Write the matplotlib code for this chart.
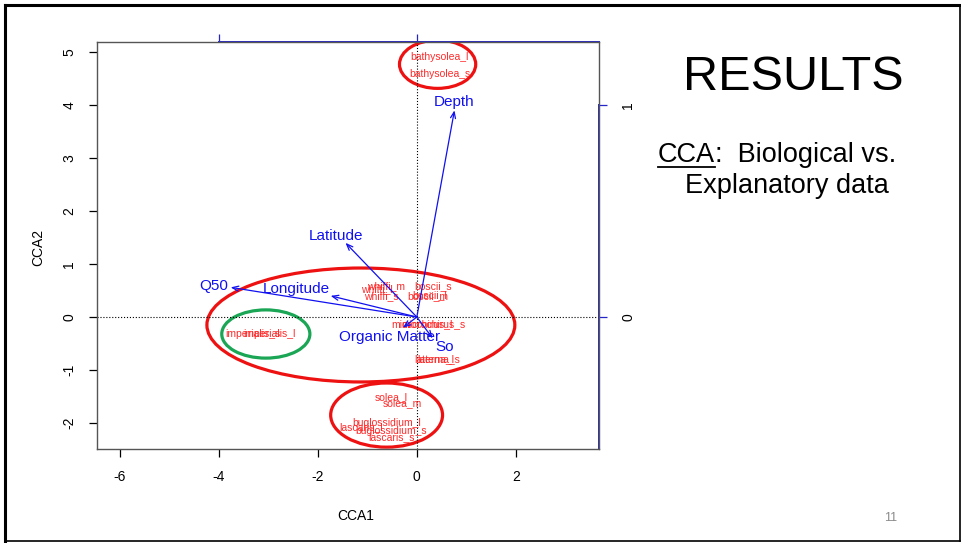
import matplotlib.pyplot as plt
from matplotlib.patches import Ellipse
from matplotlib.lines import Line2D

plt.rcParams['font.family'] = ['Liberation Sans', 'DejaVu Sans']
plt.rcParams['axes.unicode_minus'] = False

# species scores on CCA1 / CCA2
species = ['bathysolea_l', 'bathysolea_s',
           'whiffi_l', 'whiffi_m', 'whiffi_s',
           'boscii_s', 'boscii_l', 'boscii_m',
           'microchirus_l', 'microchirus_s',
           'laterna_l', 'laterna_s',
           'imperialis_s', 'imperialis_l',
           'solea_l', 'solea_m',
           'buglossidium_l', 'buglossidium_s',
           'lascaris_l', 'lascaris_s']
sp_x = [0.46, 0.46, -0.81, -0.63, -0.71, 0.32, 0.26, 0.22, 0.10, 0.34,
        0.36, 0.44, -3.31, -2.97, -0.51, -0.30, -0.61, -0.51, -1.13, -0.51]
sp_y = [4.91, 4.58, 0.53, 0.58, 0.40, 0.58, 0.42, 0.40, -0.13, -0.13,
        -0.79, -0.79, -0.32, -0.32, -1.51, -1.62, -2.00, -2.15, -2.08, -2.26]

# biplot scores of the explanatory variables and where their names sit
env = ['Depth', 'Latitude', 'Q50', 'Longitude', 'Organic Matter', 'So']
env_x = [0.19, -0.36, -0.94, -0.435, -0.07, 0.08]
env_y = [0.975, 0.35, 0.14, 0.10, -0.05, -0.10]
env_lx = [0.19, -0.41, -1.025, -0.61, -0.14, 0.14]
env_ly = [1.015, 0.38, 0.145, 0.13, -0.095, -0.14]
arrow_mul = 4.0

# hand-drawn groupings: centre x, centre y, width, height, colour
grp_cx = [0.42, -1.13, -3.05, -0.61]
grp_cy = [4.77, -0.15, -0.32, -1.85]
grp_w = [1.54, 6.22, 1.78, 2.26]
grp_h = [0.91, 2.15, 0.91, 1.21]
grp_col = ['#ee1111', '#ee1111', '#1aa655', '#ee1111']

blue = '#1010f0'
axblue = '#2626c8'
red = '#ff2a2a'

fig = plt.figure(figsize=(9.62, 5.43), dpi=100)
ax = fig.add_axes([97 / 962, 1 - 449 / 543, 502 / 962, 407 / 543])
xmin, xmax, ymin, ymax = -6.46, 3.68, -2.49, 5.19
ax.set_xlim(xmin, xmax)
ax.set_ylim(ymin, ymax)

ax.axhline(0, color='black', lw=0.8, ls=':')
ax.axvline(0, color='black', lw=0.8, ls=':')

for name, x, y in zip(species, sp_x, sp_y):
    ax.text(x, y, name, color=red, fontsize=7.5, ha='center', va='center')

for name, x, y, lx, ly in zip(env, env_x, env_y, env_lx, env_ly):
    ax.annotate('', xy=(x * arrow_mul, y * arrow_mul), xytext=(0, 0),
                arrowprops=dict(arrowstyle='->,head_length=0.45,head_width=0.18',
                                color=blue, lw=0.9, shrinkA=0, shrinkB=0))
    ax.text(lx * arrow_mul, ly * arrow_mul, name, color=blue, fontsize=11,
            ha='center', va='center')

for cx, cy, w, h, c in zip(grp_cx, grp_cy, grp_w, grp_h, grp_col):
    ax.add_patch(Ellipse((cx, cy), w, h, fill=False, edgecolor=c, lw=2.3))

ax.set_xticks([-6, -4, -2, 0, 2])
ax.set_yticks(range(-2, 6))
ax.set_yticklabels([str(v) for v in range(-2, 6)], rotation=90, va='center')
ax.tick_params(direction='out', length=6, width=0.9, labelsize=10, pad=9)
for sp in ax.spines.values():
    sp.set_color('#555555')
    sp.set_linewidth(1.0)

# arrow scale axes on top and right
sx = ax.secondary_xaxis('top', functions=(lambda v: v / arrow_mul, lambda v: v * arrow_mul))
sx.set_xticks([-1, 0])
sx.set_xticklabels([])
sx.tick_params(color=axblue, length=6, width=0.9)
sx.spines['top'].set_visible(False)
sy = ax.secondary_yaxis('right', functions=(lambda v: v / arrow_mul, lambda v: v * arrow_mul))
sy.set_yticks([0, 1])
sy.set_yticklabels(['0', '1'], rotation=90, va='center')
sy.tick_params(color=axblue, length=6, width=0.9, labelsize=10, pad=10)
sy.spines['right'].set_visible(False)
ax.plot([-arrow_mul, xmax], [ymax, ymax], color=axblue, lw=1.4, clip_on=False)
ax.plot([xmax, xmax], [ymin, arrow_mul], color=axblue, lw=1.4, clip_on=False)

fig.text(356 / 962, 1 - 516 / 543, 'CCA1', fontsize=10, ha='center', va='center')
fig.text(38 / 962, 1 - 247 / 543, 'CCA2', fontsize=10, ha='center', va='center',
         rotation=90)

# slide text
fig.text(793 / 962, 1 - 77 / 543, 'RESULTS', fontsize=35, ha='center', va='center')
t = fig.text(658 / 962, 1 - 155 / 543, 'CCA', fontsize=19.5, va='center')
fig.canvas.draw()
bb = t.get_window_extent()
fig.text(bb.x1 / 962, 1 - 155 / 543, ':  Biological vs.', fontsize=19.5, va='center')
fig.add_artist(Line2D([bb.x0 / 962, bb.x1 / 962], [(bb.y0 + 1) / 543] * 2,
                      transform=fig.transFigure, color='black', lw=1.3))
fig.text(685 / 962, 1 - 186 / 543, 'Explanatory data', fontsize=19.5, va='center')
fig.text(891 / 962, 1 - 518 / 543, '11', fontsize=9, color='#8a8a8a',
         ha='center', va='center')

# slide frame
for xs, ys, lw in [([5, 5], [5, 541], 2.2), ([5, 960], [5, 5], 2.2),
                   ([960, 960], [5, 541], 1.2), ([5, 960], [541, 541], 1.2)]:
    fig.add_artist(Line2D([v / 962 for v in xs], [1 - v / 543 for v in ys],
                          transform=fig.transFigure, color='black', lw=lw))

fig.savefig('out.png', dpi=100)
